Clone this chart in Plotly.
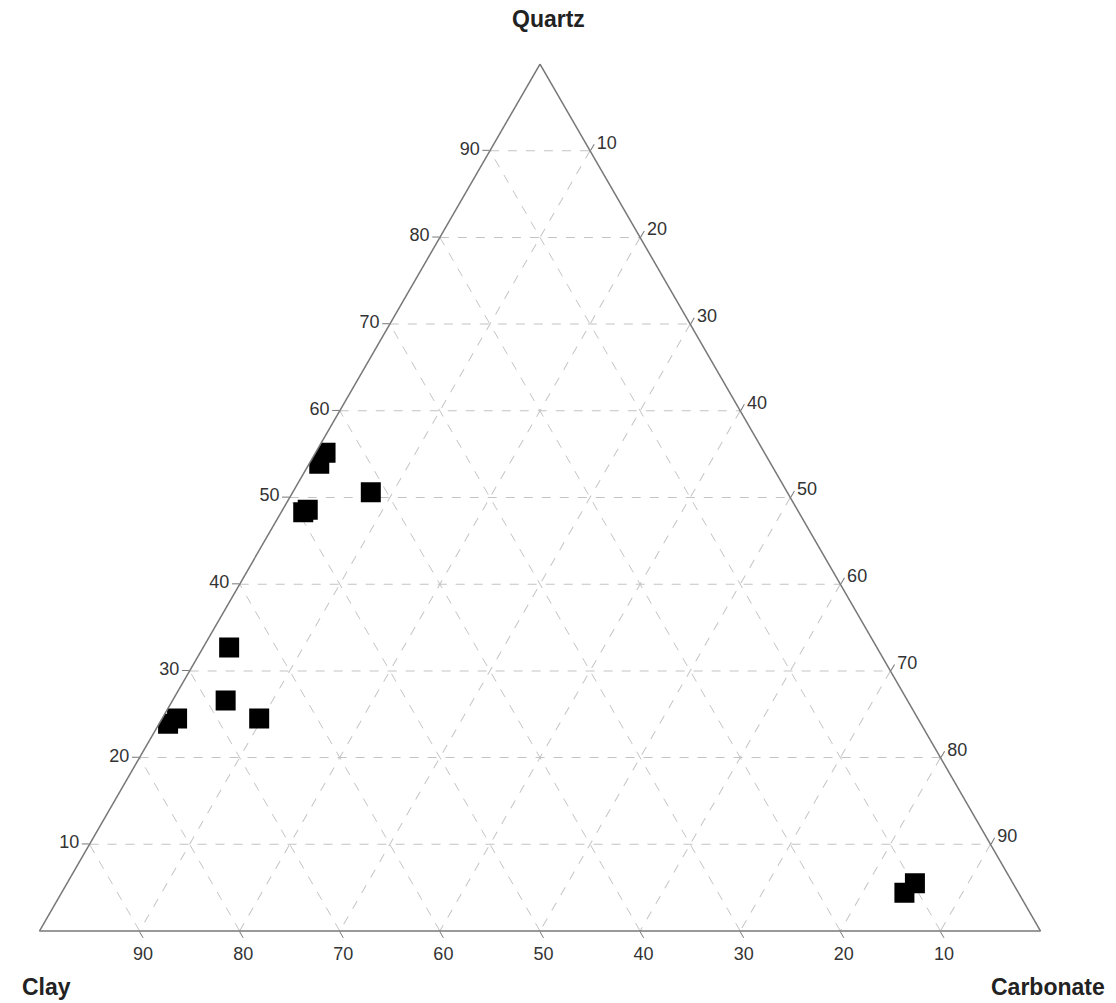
import plotly.graph_objects as go

quartz = [55.1, 53.9, 50.6, 48.3, 48.6, 32.7, 26.6, 24.5, 23.9, 24.5, 4.4, 5.5]
clay = [43.8, 45.1, 41.6, 49.5, 48.9, 64.7, 68.1, 65.8, 75.2, 74.0, 11.4, 9.8]
carbonate = [1.0, 1.0, 7.8, 2.2, 2.5, 2.6, 5.3, 9.7, 0.9, 1.5, 84.2, 84.7]

tick_vals = [10, 20, 30, 40, 50, 60, 70, 80, 90]
tick_text = [str(v) for v in tick_vals]
axis_titles = ["Quartz", "Clay", "Carbonate"]

W, H = 1116, 1003
ML, MR, MT, MB = 30, 82, 56, 80

def px(x, y):
    return (x - ML) / (W - ML - MR), 1 - (y - MT) / (H - MT - MB)

fig = go.Figure()
fig.add_trace(go.Scatterternary(
    a=quartz, b=clay, c=carbonate,
    mode="markers",
    marker=dict(symbol="square", size=20, color="black", line=dict(width=0)),
    showlegend=False,
    hoverinfo="a+b+c",
))

def axis():
    return dict(
        title=dict(text=""),
        tickvals=tick_vals, ticktext=tick_text,
        ticks="outside", ticklen=7, tickcolor="#777", tickwidth=1,
        tickfont=dict(size=18, color="#333"),
        showline=True, linecolor="#777", linewidth=1.5,
        showgrid=True, gridcolor="#c4c4c4", gridwidth=1, griddash="dash",
        min=0,
    )

annots = []
for name, (x, y), xa in zip(axis_titles, [(540, 11), (12, 979), (1040, 979)],
                            ["center", "left", "center"]):
    xp, yp = px(x, y)
    annots.append(dict(text="<b>" + name + "</b>", x=xp, y=yp, xref="paper", yref="paper",
                       xanchor=xa, yanchor="middle", showarrow=False,
                       font=dict(size=23, color="#222")))

fig.update_layout(
    width=W, height=H,
    margin=dict(l=ML, r=MR, t=MT, b=MB),
    paper_bgcolor="white",
    font=dict(family="Liberation Sans, Arial, sans-serif"),
    ternary=dict(
        sum=100,
        bgcolor="white",
        aaxis=axis(),
        baxis=axis(),
        caxis=axis(),
    ),
    annotations=annots,
)

fig.write_html("out.html")
